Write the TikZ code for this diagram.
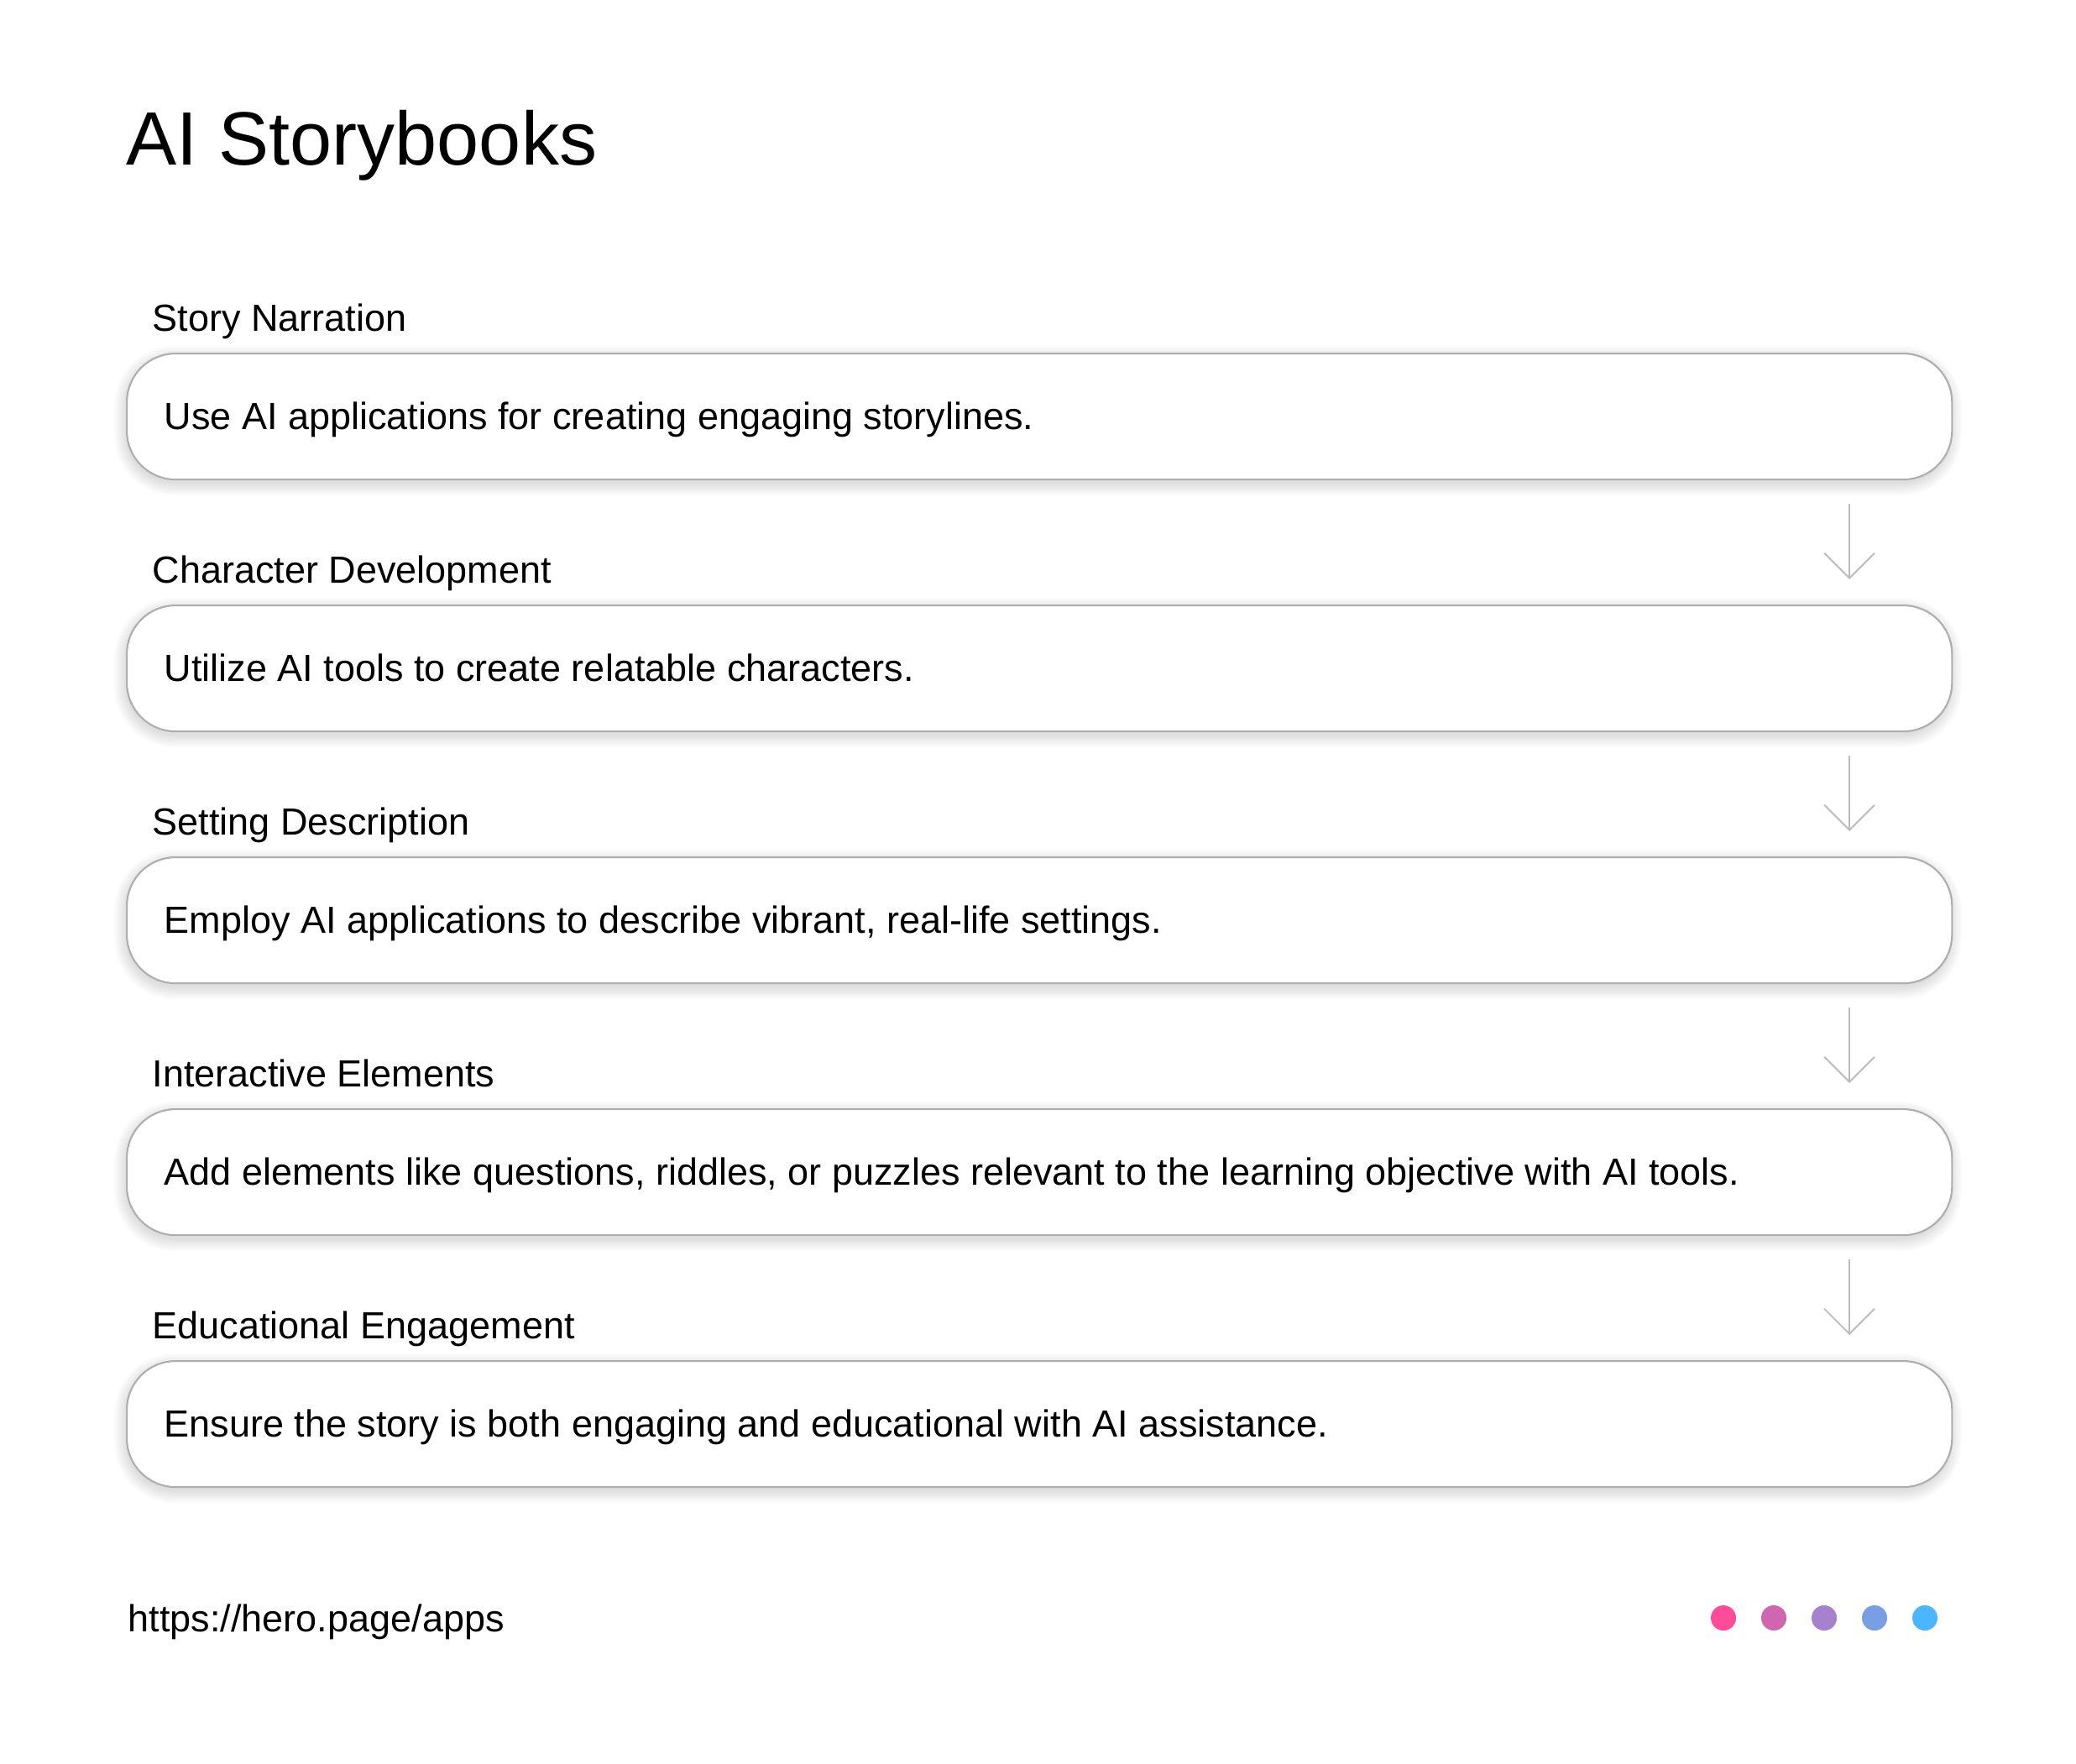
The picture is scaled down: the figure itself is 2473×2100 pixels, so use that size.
\documentclass[tikz,border=0pt]{standalone}
\usepackage{fontspec}
\setmainfont{Liberation Sans}
\usetikzlibrary{arrows.meta}
\definecolor{boxline}{HTML}{AEAEAE}
\definecolor{arrline}{HTML}{BBBBBB}
\definecolor{dotA}{HTML}{FF4B9A}
\definecolor{dotB}{HTML}{CE66B0}
\definecolor{dotC}{HTML}{A682CE}
\definecolor{dotD}{HTML}{789EE6}
\definecolor{dotE}{HTML}{4BB6FF}
\begin{document}
\begin{tikzpicture}[x=0.01cm,y=-0.01cm,
  stepbox/.style={draw=boxline, line width=0.6pt, fill=white, rounded corners=0.58cm,
    minimum width=21.73cm, minimum height=1.5cm, anchor=north west, inner sep=0pt},
  boxtext/.style={anchor=base west, inner sep=0pt, font=\fontsize{12.8pt}{15pt}\selectfont, text=black},
  label/.style={anchor=base west, inner sep=0pt, font=\fontsize{12.8pt}{15pt}\selectfont, text=black},
  arr/.style={draw=arrline, line width=0.55pt, -{Straight Barb[length=8.5pt, width=17pt, line width=0.55pt]}},
  dot/.style={circle, minimum size=0.3cm, inner sep=0pt},
  shadowlayer/.style={fill=black, fill opacity=0.014, draw=none}
]
\useasboundingbox[fill=white] (0,0) rectangle (2473,2100);

\node[anchor=base west, inner sep=0pt, font=\fontsize{25.6pt}{30pt}\selectfont] (title) at (150,196) {AI Storybooks};

\foreach \i/\lab/\txt in {
  0/Story Narration/Use AI applications for creating engaging storylines.,
  1/Character Development/Utilize AI tools to create relatable characters.,
  2/Setting Description/{Employ AI applications to describe vibrant, real-life settings.},
  3/Interactive Elements/{Add elements like questions, riddles, or puzzles relevant to the learning objective with AI tools.},
  4/Educational Engagement/Ensure the story is both engaging and educational with AI assistance.}{
  \foreach \k in {0,2,4,6,8,10,12,14}{
    \fill[shadowlayer, rounded corners={(58+\k)*0.01cm}] ({150-\k},{420+300*\i+6-\k}) rectangle ({2323+\k},{570+300*\i+6+\k});
  }
  \node[label] (lab\i) at (181,{394+300*\i}) {\lab};
  \node[stepbox] (box\i) at (150,{420+300*\i}) {};
  \node[boxtext] (txt\i) at (195,{511+300*\i}) {\txt};
}

\foreach \i in {0,1,2,3}{
  \coordinate (as\i) at (2203,{600+300*\i});
  \coordinate (ae\i) at (2203,{690+300*\i});
  \draw[arr] (as\i) -- (ae\i);
}

\node[anchor=base west, inner sep=0pt, font=\fontsize{12.8pt}{15pt}\selectfont] (url) at (152,1943) {https://hero.page/apps};

\node[dot, fill=dotA] (d1) at (2053,1927) {};
\node[dot, fill=dotB] (d2) at (2113,1927) {};
\node[dot, fill=dotC] (d3) at (2173,1927) {};
\node[dot, fill=dotD] (d4) at (2233,1927) {};
\node[dot, fill=dotE] (d5) at (2293,1927) {};
\end{tikzpicture}
\end{document}
